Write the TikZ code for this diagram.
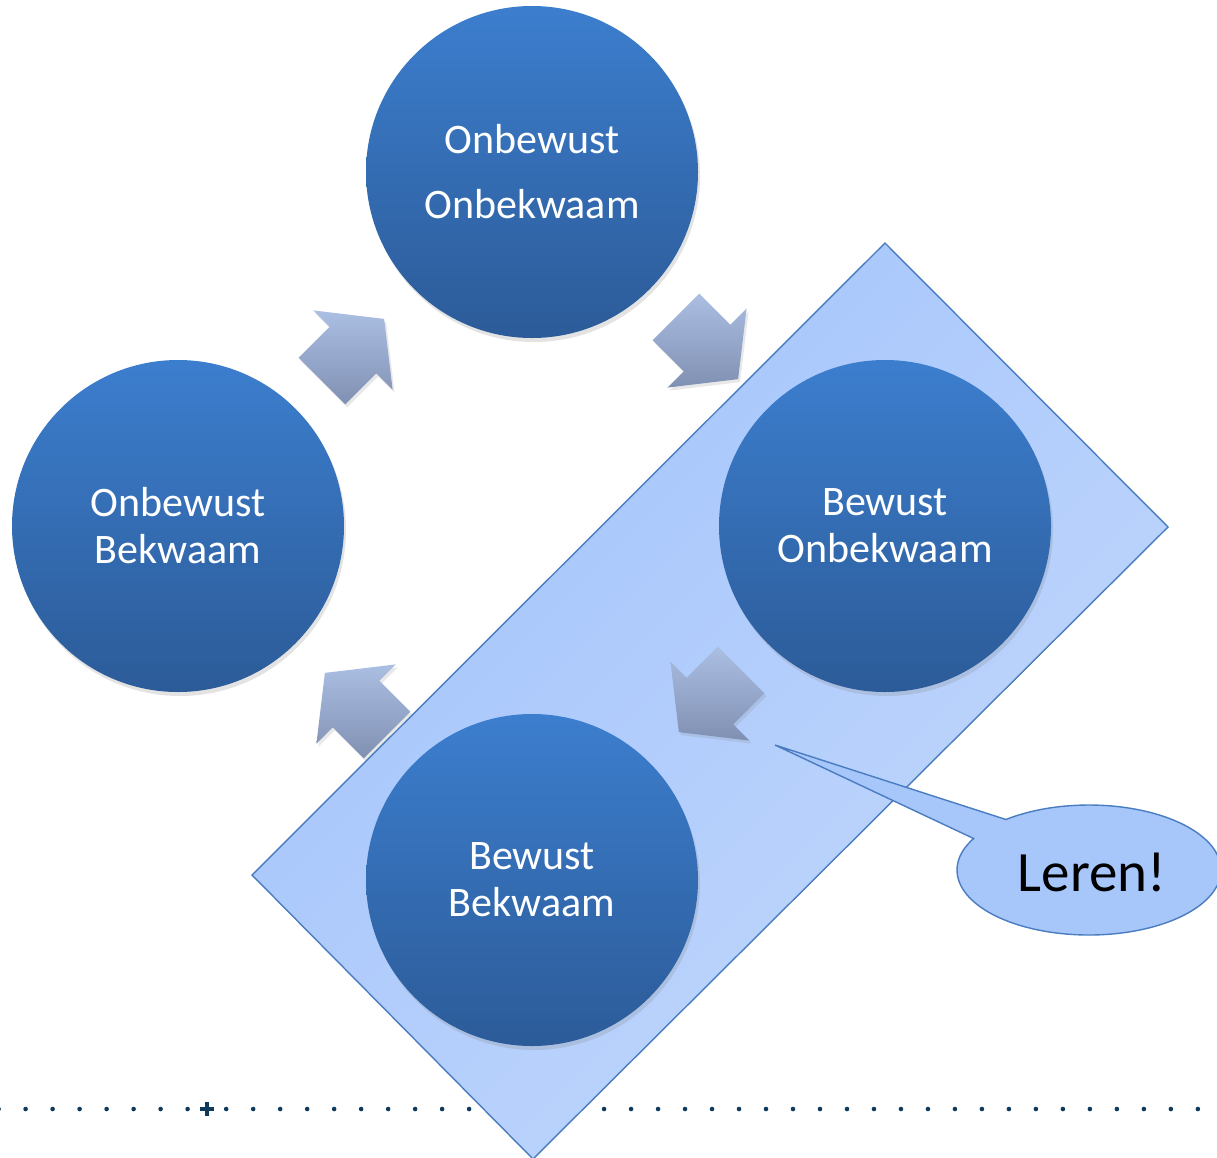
\documentclass[tikz,border=0pt]{standalone}
\usepackage{fontspec}
\setmainfont{Carlito}
\usetikzlibrary{shadows}

\definecolor{discTop}{HTML}{3C7ECE}
\definecolor{discBot}{HTML}{2C5B98}
\definecolor{arrTop}{HTML}{ABBFE2}
\definecolor{arrBot}{HTML}{8090B3}
\definecolor{bandA}{HTML}{A3C3FB}
\definecolor{bandB}{HTML}{C2D8FD}
\definecolor{bandLine}{HTML}{4A7CC0}
\definecolor{bubbleFill}{HTML}{A7C6FA}
\definecolor{dotInk}{HTML}{0E3A5E}

\tikzset{
  disc/.style={circle, minimum size=332pt, inner sep=0pt,
    top color=discTop, bottom color=discBot, text=white, align=center,
    font=\fontsize{42}{47}\selectfont,
    drop shadow={opacity=0.22, shadow xshift=2pt, shadow yshift=-4pt}},
  arrowfill/.style={top color=arrTop, bottom color=arrBot,
    drop shadow={opacity=0.18, shadow xshift=2pt, shadow yshift=-3pt}},
  band/.style={top color=bandA, middle color=bandA!88!bandB, bottom color=bandB,
    shading angle=45, draw=bandLine, line width=1.4pt},
  bubble/.style={fill=bubbleFill, draw=bandLine, line width=1.4pt},
  dotmark/.style={fill=dotInk},
}

% stubby block arrow: centre (#1,#2), unit forward direction (#3,#4)
\newcommand\blockarrow[4]{%
  \shade[arrowfill]
    ({#1-44*(#3)-33*(#4)},{#2-44*(#4)+33*(#3)}) --
    ({#1-33*(#4)},{#2+33*(#3)}) --
    ({#1-56*(#4)},{#2+56*(#3)}) --
    ({#1+44*(#3)},{#2+44*(#4)}) --
    ({#1+56*(#4)},{#2-56*(#3)}) --
    ({#1+33*(#4)},{#2-33*(#3)}) --
    ({#1-44*(#3)+33*(#4)},{#2-44*(#4)-33*(#3)}) -- cycle;}

\begin{document}
\begin{tikzpicture}[x=1pt, y=-1pt]
  \useasboundingbox (0,0) rectangle (1217,1157);
  \clip (0,0) rectangle (1217,1157);

  % dotted rule with a cross marker
  \foreach \k in {0,...,7}
    \fill[dotmark] ({-1.4+27*\k},1109) circle (2.3pt);
  \foreach \k in {0,...,36}
    \fill[dotmark] ({226.2+26.99*\k},1109) circle (2.3pt);
  \fill[dotmark] (200,1107) rectangle (214,1111);
  \fill[dotmark] (205,1102) rectangle (209,1116);

  % arrows outside the band
  \blockarrow{707}{348}{0.7071}{0.7071}
  \blockarrow{353}{350}{0.7071}{-0.7071}
  \blockarrow{356}{704}{-0.7071}{-0.7071}

  % tilted band
  \shade[band] (885,243) -- (1168,527) -- (533,1159) -- (252,875) -- cycle;

  % arrow inside the band
  \blockarrow{710}{701}{-0.7071}{0.7071}

  % stages
  \node[disc, font=\fontsize{42}{65}\selectfont] (uu) at (532,172) {Onbewust\\Onbekwaam};
  \node[disc] (bu) at (885,526) {Bewust\\Onbekwaam};
  \node[disc] (bb) at (532,880) {Bewust\\Bekwaam};
  \node[disc] (ub) at (178,526) {Onbewust\\Bekwaam};

  % callout
  \coordinate (tailtip) at (775,745);
  \path[bubble] (tailtip) --
    plot[smooth, samples=120, domain=129:-209] ({1089+132*cos(\x)},{870-65*sin(\x)}) -- cycle;
  \node[font=\fontsize{57}{60}\selectfont, text=black] (leren) at (1092,872) {Leren!};
\end{tikzpicture}
\end{document}
